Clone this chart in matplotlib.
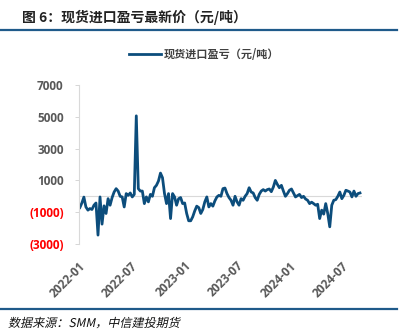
import numpy as np
import pandas as pd
import matplotlib
matplotlib.use("Agg")
import matplotlib.pyplot as plt
from matplotlib.lines import Line2D
from matplotlib.patches import PathPatch
from matplotlib.textpath import TextPath
from matplotlib.font_manager import FontProperties
from matplotlib.transforms import Affine2D

plt.rcParams['font.family'] = ['Noto Sans CJK SC', 'DejaVu Sans']

# 数据（周度，读图估计）
start_date = "2022-01-04"
profit = [
    -710, -420, -50, -670, -870, -770, -830, -560, -420, -2440,
    -40, -1750, -600, -1080, -150, -560, -80, 270, 480, 330,
    0, -40, -670, 170, 60, 210, -40, 120, 5060, 480,
    330, 330, -460, -40, -350, 120, 0, 540, 690, 960,
    1460, 1170, 170, -460, 170, -1400, 170, -40, -560, -150,
    -80, -460, -420, -1080, -1540, -1540, -1290, -920, -620, -710,
    -1080, -830, -350, -40, -670, -460, -620, -290, -40, 60,
    0, 480, 520, 170, -80, -250, -560, 0, -350, -560,
    -150, -250, 0, 170, 540, 270, 210, -80, -250, 120,
    330, 420, 330, 420, 460, 290, 580, 1000, 750, 540,
    690, 330, 0, 170, 380, 460, 210, -40, 40, 120,
    -80, 0, -170, -250, -460, -370, -460, -560, -500, -1400,
    -870, -1120, -460, -1080, -1920, -560, -250, -210, 0, 270,
    -150, 60, 380, 330, 270, -40, 330, 0, 170, 210,
]
dates = pd.date_range(start_date, periods=len(profit), freq="7D")

y_ticks = [7000, 5000, 3000, 1000, -1000, -3000]
x_ticks = ["2022-01", "2022-07", "2023-01", "2023-07", "2024-01", "2024-07"]

title = "图 6：现货进口盈亏最新价（元/吨）"
series_name = "现货进口盈亏（元/吨）"
source = "数据来源：SMM，中信建投期货"

line_color = "#0c4d7c"
rule_color = "#1f5a8a"
tick_gray = "#595959"
num_font = ["Open Sans", "DejaVu Sans"]

W, H = 404, 336
fig = plt.figure(figsize=(W / 100, H / 100), dpi=100)

# 标题和分隔线
fig.text(22 / W, 1 - 17 / H, title, fontsize=10, fontweight="bold", va="center", ha="left", color="#222222")
fig.add_artist(Line2D([0, 397 / W], [1 - 30 / H] * 2, color=rule_color, lw=1.6))
fig.add_artist(Line2D([0, 397 / W], [1 - 309 / H] * 2, color=rule_color, lw=1.6))

ax = fig.add_axes([79 / W, 1 - 244 / H, 283 / W, 159 / H])
ax.plot(dates, profit, color=line_color, lw=2.0, label=series_name, solid_joinstyle="round")
ax.axhline(0, color="#d9d9d9", lw=0.8, zorder=0)

ax.set_ylim(-3000, 7000)
ax.set_yticks(y_ticks)
ylabels = [f"{v}" if v >= 0 else f"({-v})" for v in y_ticks]
ax.set_yticklabels(ylabels, fontsize=8.5, fontweight="bold", family=num_font)
for lab, v in zip(ax.get_yticklabels(), y_ticks):
    lab.set_color("#ff0000" if v < 0 else tick_gray)
ax.tick_params(axis="y", length=3, width=0.6, color="#d0d0d0", pad=8)

ax.set_xlim(pd.Timestamp("2022-01-01"), pd.Timestamp("2024-09-10"))
ax.set_xticks(pd.to_datetime(x_ticks))
ax.set_xticklabels(x_ticks, rotation=45, ha="right", va="top", rotation_mode="anchor",
                   fontsize=8.5, fontweight="bold", color=tick_gray, family=num_font)
ax.tick_params(axis="x", length=0, pad=11)

for s in ["top", "right", "bottom"]:
    ax.spines[s].set_visible(False)
ax.spines["left"].set_color("#d9d9d9")
ax.spines["left"].set_linewidth(0.8)

fig.legend(loc="center", bbox_to_anchor=(204 / W, 1 - 54 / H), frameon=False,
           handlelength=2.9, handletextpad=0.2, prop={"size": 8, "weight": "bold"},
           labelcolor="#404040")

# 斜体来源说明（CJK 字体无斜体，手动倾斜）
tp = TextPath((0, 0), source, prop=FontProperties(family=["Noto Sans CJK SC"], size=8.7))
tr = Affine2D().skew_deg(12, 0).scale(1 / 72).translate(8 / 100, (H - 327) / 100) + fig.dpi_scale_trans
fig.add_artist(PathPatch(tp, transform=tr, color="#111111", lw=0))

fig.savefig("out.png", dpi=100)
